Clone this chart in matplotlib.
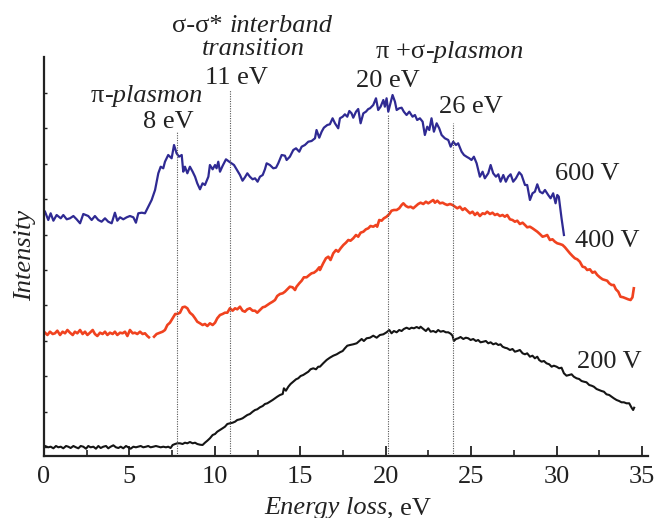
import numpy as np
import matplotlib
matplotlib.use("Agg")
import matplotlib.pyplot as plt

# ---------------- data (energy loss in eV, intensity in arbitrary units) -------------
blue_ev = [0.06,0.25,0.39,0.55,0.74,0.98,1.13,1.33,1.52,1.72,1.91,2.11,2.30,2.59,2.79,2.98,3.18,3.37,
           3.57,3.76,3.96,4.15,4.29,4.45,4.64,4.84,5.03,5.23,5.38,5.52,5.72,5.91,6.10,6.30,6.50,6.69,
           6.83,6.98,7.08,7.27,7.47,7.61,7.76,7.90,8.06,8.15,8.25,8.39,8.54,8.70,8.84,8.97,9.13,9.28,
           9.42,9.62,9.71,9.87,10.01,10.10,10.20,10.30,10.45,10.65,10.84,10.98,11.12,11.27,11.47,11.62,
           11.76,11.90,12.05,12.21,12.35,12.50,12.64,12.80,12.93,13.03,
           13.22,13.42,13.58,13.71,13.91,14.10,14.20,14.39,14.59,14.75,14.94,15.08,15.27,15.47,15.66,
           15.86,15.95,16.11,16.25,16.38,16.58,16.73,16.89,17.03,17.22,17.32,17.48,17.61,17.75,17.87,
           18.00,18.10,18.26,18.39,18.53,18.69,18.84,18.98,19.08,19.27,19.43,19.56,19.70,19.86,19.95,
           20.05,20.15,20.25,20.40,20.54,20.64,20.79,20.93,21.06,21.22,21.38,21.57,21.71,21.84,22.00,
           22.16,22.29,22.43,22.55,22.68,22.82,22.98,23.13,23.27,23.46,23.66,23.80,23.95,24.11,24.24,
           24.44,24.58,24.73,24.89,25.02,25.16,25.32,25.51,25.67,25.80,26.00,26.14,26.29,26.45,26.59,
           26.72,26.88,27.03,27.17,27.31,27.46,27.62,27.81,27.95,28.15,28.28,28.44,28.59,28.73,28.87,
           29.02,29.18,29.32,29.51,29.65,29.80,29.94,30.04,30.13,30.29,30.43]
blue_int = [244.3,236,242.7,235.3,241,237.7,241,236.7,237.7,240,236.7,232.7,242,240,236,240,236,234.3,
            237.7,234.3,232.7,243.3,235.3,238.7,236.7,238.7,240,238.7,233.3,242.7,243.3,242.7,249.3,256,
            266,282.7,289.3,287.7,294.3,301,297.7,311,302.7,299.3,301,284.3,289.3,282.7,289.3,284.3,
            279.3,272.7,266.7,272.7,271,279.3,291,286.7,291,287.7,294.3,284.3,290,296.7,294.3,292.7,291,
            286.7,281,275.3,278.7,282.7,279.3,276.7,277.7,274.3,279.3,281,286.7,292.7,
            291,287.7,288.3,292.7,301,300.3,296,299.3,306,307.7,304.3,309.3,311,314.3,315,
            317.7,326,318.3,324.3,328.3,331,331.7,337.7,332.7,327.7,337.7,339.3,341.7,339.3,345,
            342.7,338.3,344.3,347,332.7,342.7,344.3,347,347.7,351,357.7,346,349.3,356,349.3,
            357.7,344.3,351,361,354.3,346,347.7,348.3,344.3,341,344.3,339.3,341,336,337.7,
            334.3,321,329.3,326,337.7,324.3,332.7,327.7,321,317.7,316,309.3,314.3,311,312.7,
            304.3,301,299.3,297.7,296,299.3,292.7,279.3,284.3,277.7,282.7,291,282.7,279.3,281.7,
            274.3,281,274.3,279.3,281.7,274.3,277.7,283.7,281,271,271,256,262.7,264.3,271.7,
            264.3,262.7,266,261,257.7,262.7,252.7,261,259.3,237.7,221]

red_ev = [0.06,0.20,0.35,0.51,0.64,0.78,0.94,1.09,1.23,1.37,1.52,1.68,1.81,1.95,2.11,2.26,2.40,2.54,
          2.69,2.85,2.98,3.12,3.28,3.43,3.57,3.71,3.86,4.02,4.15,4.29,4.45,4.60,4.74,4.88,5.03,5.19,
          5.32,5.46,5.62,5.77,5.91,6.05,6.14,6.30,6.44,6.59,6.79,6.94,7.08,7.22,7.37,7.53,7.68,7.80,
          7.96,8.11,8.25,8.39,8.54,8.70,8.84,8.97,9.13,9.28,9.42,9.56,9.71,9.87,10.01,10.14,10.30,
          10.45,10.59,10.73,10.88,11.04,11.18,11.31,11.47,11.62,11.76,11.90,12.05,12.21,12.35,12.48,
          12.64,12.80,12.93,13.07,13.22,13.38,13.52,13.65,13.81,13.97,14.10,14.24,14.39,14.55,14.69,
          14.78,14.94,15.08,15.21,15.37,15.53,15.66,15.80,15.95,16.11,
          16.15,16.34,16.50,16.64,16.77,16.93,17.09,17.22,17.36,17.52,17.67,17.81,17.94,18.10,18.26,
          18.39,18.53,18.69,18.84,18.98,19.11,19.27,19.43,19.50,19.62,19.76,19.89,20.05,20.21,20.34,
          20.48,20.64,20.79,20.93,21.03,21.18,21.32,21.46,21.61,21.77,21.90,22.04,22.20,22.35,22.49,
          22.63,22.78,22.88,23.02,23.17,23.33,23.46,23.60,23.76,23.91,24.05,24.19,24.34,24.50,24.63,
          24.77,24.93,25.08,25.22,25.36,25.51,25.67,25.80,25.94,26.10,26.25,26.39,26.53,26.68,26.84,
          26.97,27.11,27.27,27.42,27.56,27.70,27.85,28.01,28.15,28.28,28.44,28.59,28.73,28.87,29.02,
          29.18,29.32,29.45,29.61,29.76,29.90,30.04,30.19,30.35,30.49,30.62,30.78,30.93,31.07,31.21,
          31.36,31.52,31.66,31.79,31.95,32.10,32.24,32.38,32.53,32.69,32.83,32.96,33.08,33.22,33.35,
          33.47,33.61,33.74,33.90,34.05,34.19,34.33,34.44,34.52]
red_int = [123.3,121,124.3,122,122.7,125.3,121,124.3,122.7,126,123.3,121,124.3,122.7,126,122,124.3,121,
           123.3,126,122,120,123.3,122,124.3,121,123.3,122,124.3,121,123.3,122.7,124.3,120,126,122.7,
           123.3,122,124.3,122,122.7,120,118.7,np.nan,119.3,122,123.3,124.3,126,131,133.3,137.7,142,142,
           143.3,148.7,149.3,147.7,143.3,141,137.7,134.3,132.7,131,132,130,132.7,131,133.3,137.7,141,
           142,143.3,143.3,147.7,145.3,147.7,146.7,149.3,145.3,144.3,146.7,147.7,145.3,145.3,143.3,
           146,148.7,149.3,151,152.7,154.3,156,160,162,162.7,164.3,166.7,169.3,168.7,166,
           169.3,172.7,175.3,178.7,178.7,181,182.7,183.3,185.3,188.7,
           186,192.7,197.7,199.3,196,202.7,206,204.3,207.7,211,213.3,216,215.3,217.7,221,
           219.3,223.3,224.3,226.7,227.7,230,229.3,231,229.3,236,235.3,237.7,239.3,242,245.3,
           246,246,247.7,251,252.7,250,248.7,249.3,247.7,250,252,253.3,252,254.3,252.7,
           254.3,256,253.3,255.3,252.7,253.3,252,251,252,251,249.3,247.7,249.3,246,247.7,
           245.3,242.7,244.3,241,243.3,240,242.7,242,244.3,242,243.3,241,242,240,241,
           239.3,241,236.7,236,234.3,235.3,232,233.3,231,228.7,229.3,227.7,226,224.3,222,
           219.3,220,221,216,216.7,214.3,212.7,212,211,208.7,206,202.7,200,197.7,196.7,
           194.3,189.3,188.7,186,186.7,183.3,184.3,181,178.7,176.7,176,175.3,172.7,171,171,
           166.7,164.3,159.3,158.7,157.7,156.7,156,158.7,167.7]

black_ev = [0.06,0.25,0.39,0.55,0.70,0.84,0.98,1.13,1.29,1.42,1.56,1.72,1.87,2.01,2.15,2.30,2.46,2.59,
            2.73,2.89,3.04,3.18,3.32,3.47,3.63,3.76,3.90,4.06,4.21,4.35,4.49,4.64,4.80,4.93,5.07,5.23,
            5.38,5.52,5.66,5.81,5.97,6.10,6.24,6.40,6.55,6.69,6.83,6.98,7.14,7.27,7.41,7.53,7.67,7.80,
            7.96,8.11,8.25,8.39,8.54,8.70,8.84,8.97,9.13,9.28,9.42,9.56,9.71,9.87,10.01,10.14,10.30,
            10.45,10.59,10.73,10.88,11.04,11.18,11.31,11.47,11.62,11.76,11.90,12.05,12.21,12.35,12.48,
            12.64,12.80,12.93,13.07,13.22,13.38,13.52,13.65,13.81,13.97,14.04,14.16,14.30,14.43,14.59,
            14.75,14.88,15.02,15.17,15.33,15.47,15.60,15.76,15.92,16.05,
            16.15,16.34,16.54,16.73,16.93,17.13,17.32,17.48,17.61,17.75,17.91,18.10,18.30,18.45,18.59,
            18.72,18.88,19.08,19.27,19.47,19.66,19.86,20.05,20.21,20.34,20.48,20.64,20.79,20.93,21.06,
            21.22,21.38,21.51,21.65,21.81,21.96,22.04,22.20,22.35,22.49,22.63,22.78,22.94,23.07,23.21,
            23.37,23.52,23.66,23.80,23.91,23.99,24.11,24.24,24.38,24.54,24.69,24.83,24.97,25.12,25.28,
            25.41,25.55,25.71,25.86,26.00,26.14,26.29,26.45,26.59,26.72,26.84,26.97,27.11,27.27,27.42,
            27.56,27.70,27.85,28.01,28.15,28.28,28.44,28.59,28.73,28.87,28.98,29.12,29.26,29.41,29.57,
            29.71,29.84,30.00,30.15,30.29,30.43,30.58,30.74,30.88,31.01,31.17,31.32,31.46,31.60,31.75,
            31.91,32.05,32.18,32.34,32.49,32.63,32.77,32.92,33.08,33.22,33.35,33.51,33.66,33.80,33.94,
            34.09,34.25,34.39,34.48,34.54]
black_int = [10,8.7,9.3,7.7,10,8.7,9.3,7.7,10,9.3,8,10,8.7,7.7,10,9.3,7.3,10,
             8.7,9.3,7.3,10,8,9.3,10,7.7,9.3,10.7,8.7,8,9.3,7.7,10,8.7,7.3,9.3,
             8.7,9.3,10,8.7,9.3,10,8.7,9.3,10,9.3,8.7,9.3,8.7,9.3,8,11,12,12.7,
             12.7,12,13.3,12.7,14,12.7,13.3,12,11.3,11,13.3,15.3,17.7,21,22,24.3,26,
             27.7,29.3,32,32.7,33.3,34.3,36,36.7,37.7,39.3,41,42,44.3,46,46.7,
             48.7,50,52,52.7,54.3,56,57.7,59.3,61,62,67.7,65.3,69.3,72,74.3,
             76.7,77.7,80,81,82.7,84.3,86.7,87.7,86.7,89.3,
             89.3,92.7,96,98.3,100.3,101.7,103.7,105,107.7,110.3,111,111.7,112.7,115,117,
             115,117.7,118.3,120.3,118.3,121,121.7,123.7,126,122.7,125,123.7,126,125,127,
             128.3,127,128.3,127.7,129,127.7,129.3,127,125,127.7,124.3,125,123.7,126,124.3,
             125,123.7,123.7,122.3,120.3,115,117,117.7,119,117,118.3,117.7,116,117,115,
             116,113.7,114.3,115,112.7,113.7,111.7,112.7,111,111.7,109.3,108.3,107.7,106,107,
             104.3,105,106,102.7,101.7,102.7,99.3,100.3,97.7,99.3,96,94.3,95,92.7,91.7,
             89.3,90.3,89.3,87.7,88.3,82.7,80.3,81,81.7,79.3,77.7,77,75,74.3,73.7,
             71,70.3,69.3,67,66,65,64.3,61.7,61,59.3,57.7,56,55,53.7,53.7,
             52.7,52.7,48.3,46,48.3]

# reference lines
vline_ev = [7.76, 10.88, 20.15, 23.95]
vline_top = [324, 366, 341, 333]
vline_labels = ["8 eV", "11 eV", "20 eV", "26 eV"]
series_labels = ["600 V", "400 V", "200 V"]

# ---------------- figure -----------------
SERIF = ["Liberation Serif", "DejaVu Serif"]
plt.rcParams["font.family"] = SERIF

W, H = 655, 518
FS = 19
INK = "#222222"
fig = plt.figure(figsize=(W / 100, H / 100), dpi=100)
ax = fig.add_axes([44 / W, 1 - 456 / H, (648 - 44) / W, (456 - 57) / H])

ax.plot(black_ev, black_int, color="#151515", lw=1.5)
ax.plot(red_ev, red_int, color="#f0421f", lw=1.9)
ax.plot(blue_ev, blue_int, color="#2f2a93", lw=1.6)

for xv, top in zip(vline_ev, vline_top):
    ax.plot([xv, xv], [0, top], color="#555555", lw=0.8, ls=(0, (1, 1.2)))

ax.set_xlim(0, 35.35)
ax.set_ylim(0, 399)

for s in ["top", "right"]:
    ax.spines[s].set_visible(False)
for s in ["left", "bottom"]:
    ax.spines[s].set_linewidth(1.6)
    ax.spines[s].set_color(INK)

ax.set_xticks(np.arange(0, 36, 5))
ax.set_xticks(np.arange(2.5, 35, 5), minor=True)
ax.set_yticks(9 + 35.4 * np.arange(11))
ax.set_yticklabels([])
ax.tick_params(axis="x", which="major", direction="in", length=7, width=1.3,
               labelsize=FS, pad=7, colors=INK)
ax.tick_params(axis="x", which="minor", direction="in", length=4.5, width=1.2, colors=INK)
ax.tick_params(axis="y", which="major", direction="in", length=2.5, width=1.0, colors=INK)

tk = dict(fontsize=FS, color=INK, clip_on=False)

# annotations (data coordinates)
ax.text(10.47, 424, "σ-σ*", ha="right", va="baseline", **tk)
ax.text(10.88, 424, "interband", ha="left", va="baseline", style="italic", **tk)
ax.text(12.23, 401, "transition", ha="center", va="baseline", style="italic", **tk)
ax.text(3.51, 354, "π", ha="right", va="baseline", **tk)
ax.text(3.51, 354, "-plasmon", ha="left", va="baseline", style="italic", **tk)
ax.text(22.29, 398, "π +σ", ha="right", va="baseline", **tk)
ax.text(22.29, 398, "-plasmon", ha="left", va="baseline", style="italic", **tk)

label_pos = [(7.26, 328), (11.29, 372), (20.13, 369), (24.99, 343)]
for (xx, yy), lab in zip(label_pos, vline_labels):
    ax.text(xx, yy, lab, ha="center", va="baseline", **tk)

series_pos = [(29.9, 276), (31.07, 209), (31.19, 88)]
for (xx, yy), lab in zip(series_pos, series_labels):
    ax.text(xx, yy, lab, ha="left", va="baseline", **tk)

# axis labels
fig.text(25 / W, 1 - 255 / H, "Intensity", rotation=90, ha="center", va="center",
         style="italic", fontsize=FS, color=INK)
fig.text(387 / W, 1 - 514 / H, "Energy loss", ha="right", va="baseline",
         style="italic", fontsize=FS, color=INK)
fig.text(387 / W, 1 - 514 / H, ", eV", ha="left", va="baseline",
         fontsize=FS, color=INK)

fig.savefig("out.png", dpi=100)
